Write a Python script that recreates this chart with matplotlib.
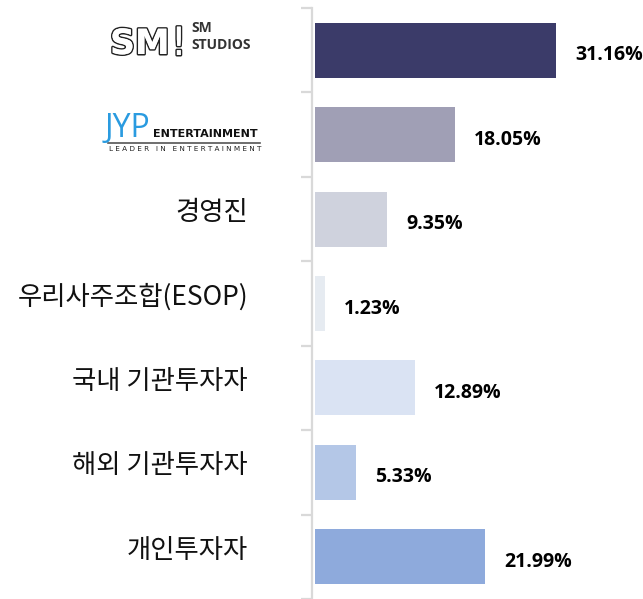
import matplotlib
matplotlib.use('Agg')
import matplotlib.pyplot as plt
import matplotlib.patheffects as pe
import numpy as np

# Shareholder structure
categories = ['SM STUDIOS', 'JYP ENTERTAINMENT', '경영진', '우리사주조합(ESOP)',
              '국내 기관투자자', '해외 기관투자자', '개인투자자']
shares = [31.16, 18.05, 9.35, 1.23, 12.89, 5.33, 21.99]
bar_colors = ['#3b3b69', '#a09fb5', '#cfd2dd', '#e6ebf1', '#dae3f3', '#b4c7e7', '#8eaadc']

W, H = 643, 599
fig = plt.figure(figsize=(W / 100, H / 100), dpi=100)
ax = fig.add_axes([315 / W, 0, 310 / W, 591 / H])

y = np.arange(len(categories))
ax.barh(y, shares, height=0.65, color=bar_colors, edgecolor='none')
ax.set_xlim(0, 40)
ax.set_ylim(len(categories) - 0.5, -0.5)

for yi, v in zip(y, shares):
    ax.annotate(f'{v:.2f}%', (v, yi), xytext=(19, -5), textcoords='offset pixels',
                ha='left', va='center', fontsize=14, fontweight='bold',
                family='Open Sans', color='black', annotation_clip=False)

# axis styling: only a light left spine with separator ticks
for s in ['top', 'right', 'bottom']:
    ax.spines[s].set_visible(False)
ax.spines['left'].set_color('#d9d9d9')
ax.spines['left'].set_linewidth(1.6)
ax.spines['left'].set_position(('outward', 2))
ax.set_xticks([])
ax.set_yticks([])
ax.set_yticks(np.arange(-0.5, len(categories), 1.0), minor=True)
ax.tick_params(axis='y', which='minor', length=8, width=1.6, color='#d9d9d9', labelleft=False)

# korean labels
for yi, name in zip(y[2:], categories[2:]):
    ax.text(-67 / 7.75, yi - 0.08, name, ha='right', va='center', fontsize=19,
            family=['Noto Sans CJK KR', 'DejaVu Sans'], color='#111111', clip_on=False)

# SM logo (approximation)
fig.text(110 / W, 1 - 44 / H, 'SM', fontsize=25, color='white', ha='left', va='center',
         family='DejaVu Sans', fontweight='bold',
         path_effects=[pe.withStroke(linewidth=2.2, foreground='#222222'), pe.Normal()])
fig.text(171 / W, 1 - 44 / H, '!', fontsize=28, color='white', ha='left', va='center',
         family='DejaVu Sans',
         path_effects=[pe.withStroke(linewidth=2.2, foreground='#222222'), pe.Normal()])
fig.text(191 / W, 1 - 28 / H, 'SM', fontsize=10, fontweight='bold', color='#333333',
         ha='left', va='center', family='Open Sans')
fig.text(191 / W, 1 - 45 / H, 'STUDIOS', fontsize=10, fontweight='bold', color='#333333',
         ha='left', va='center', family='Open Sans')

# JYP logo (approximation)
fig.text(105 / W, 1 - 137 / H, 'JYP', fontsize=23, color='#2a9be0', ha='left', va='baseline',
         family='Open Sans')
fig.text(153 / W, 1 - 134 / H, 'ENTERTAINMENT', fontsize=8, fontweight='bold',
         color='#111111', ha='left', va='center', family='DejaVu Sans')
fig.add_artist(plt.Line2D([108 / W, 260 / W], [1 - 143 / H, 1 - 143 / H],
                          color='#555555', lw=1.2))
fig.text(109 / W, 1 - 149 / H, 'L E A D E R   I N   E N T E R T A I N M E N T', fontsize=5.2,
         color='#222222', ha='left', va='center', family='DejaVu Sans')

fig.savefig('out.png', dpi=100)
